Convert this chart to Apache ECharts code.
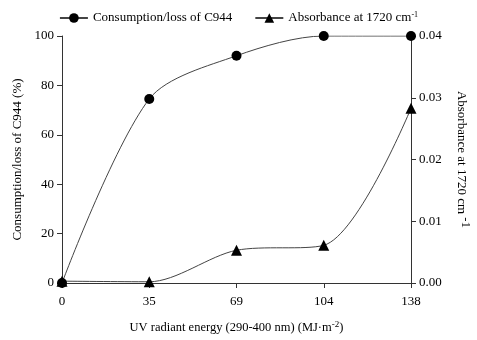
<!DOCTYPE html>
<html><head><meta charset="utf-8">
<script src="https://cdn.jsdelivr.net/npm/echarts@6/dist/echarts.min.js"></script>
<style>html,body{margin:0;padding:0;background:#fff}#c{width:477px;height:340px}</style>
</head><body><div id="c"></div>
<script>
const categories = ['0', '35', '69', '104', '138'];
const consumption = [0, 74.5, 92, 100, 100];
const absorbance = [0.0003, 0.0002, 0.0053, 0.0061, 0.0283];
const leftTicks = [0, 20, 40, 60, 80, 100];
const rightTicks = [0, 0.01, 0.02, 0.03, 0.04];

const F = 'Liberation Serif';
const chart = echarts.init(document.getElementById('c'));
chart.setOption({
  animation: false,
  textStyle: { fontFamily: F, color: '#000' },
  legend: {
    top: 6, left: 'center', itemGap: 22, itemWidth: 28, itemHeight: 12,
    textStyle: { fontFamily: F, fontSize: 13, color: '#000',
      rich: { t: { fontFamily: F, fontSize: 13 }, s: { fontFamily: F, fontSize: 8, verticalAlign: 'top', padding: [0,0,6,0] } } },
    formatter: n => n === 'Absorbance at 1720 cm-1' ? '{t|Absorbance at 1720 cm}{s|-1}' : n,
    data: ['Consumption/loss of C944', 'Absorbance at 1720 cm-1']
  },
  grid: { left: 62, right: 66, top: 36, bottom: 57, outerBoundsMode: 'none', containLabel: false },
  xAxis: {
    type: 'category', data: categories, boundaryGap: false,
    axisLine: { lineStyle: { color: '#333', width: 1 } },
    axisTick: { show: true, alignWithLabel: true, length: 5, lineStyle: { color: '#333' } },
    axisLabel: { fontFamily: F, fontSize: 13, color: '#000', margin: 12 },
    name: '{t|UV radiant energy (290-400 nm) (MJ·m}{s|-2}{t|)}',
    nameLocation: 'middle', nameGap: 37,
    nameTextStyle: { rich: { t: { fontFamily: F, fontSize: 12.5, color: '#000' }, s: { fontFamily: F, fontSize: 9, color: '#000', verticalAlign: 'top', padding: [0,0,7,0] } } }
  },
  yAxis: [
    {
      type: 'value', min: 0, max: 100, interval: 20,
      splitLine: { show: false },
      axisLine: { show: true, lineStyle: { color: '#333' } },
      axisTick: { show: true, length: 5, lineStyle: { color: '#333' } },
      axisLabel: { fontFamily: F, fontSize: 13, color: '#000', margin: 8 },
      name: 'Consumption/loss of C944 (%)', nameLocation: 'middle', nameGap: 33, nameRotate: 90,
      nameTextStyle: { fontFamily: F, fontSize: 13, color: '#000' }
    },
    {
      type: 'value', min: 0, max: 0.04, interval: 0.01, position: 'right',
      splitLine: { show: false },
      axisLine: { show: true, lineStyle: { color: '#333' } },
      axisTick: { show: true, length: 5, lineStyle: { color: '#333' } },
      axisLabel: { fontFamily: F, fontSize: 13, color: '#000', margin: 8, formatter: v => v.toFixed(2) },
      name: '{t|Absorbance at 1720 cm}{s| -1}', nameLocation: 'middle', nameGap: 40, nameRotate: -90,
      nameTextStyle: { rich: { t: { fontFamily: F, fontSize: 13, color: '#000' }, s: { fontFamily: F, fontSize: 13, color: '#000', verticalAlign: 'top', padding: [0,0,8,0] } } }
    }
  ],
  series: [
    {
      name: 'Consumption/loss of C944', type: 'line', yAxisIndex: 0, data: consumption,
      smooth: 0.3, symbol: 'circle', symbolSize: 10,
      lineStyle: { color: '#444', width: 1 }, itemStyle: { color: '#000' }
    },
    {
      name: 'Absorbance at 1720 cm-1', type: 'line', yAxisIndex: 1, data: absorbance,
      smooth: 0.3, symbol: 'triangle', symbolSize: 11,
      lineStyle: { color: '#444', width: 1 }, itemStyle: { color: '#000' }
    }
  ]
});
</script></body></html>
